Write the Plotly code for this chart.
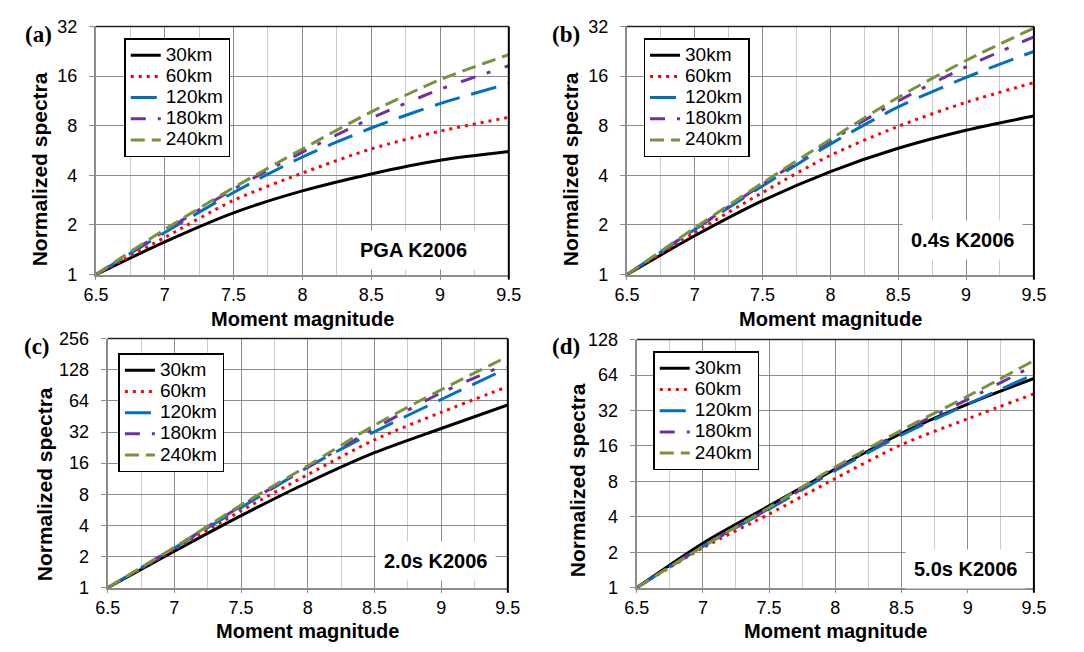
import math
import plotly.graph_objects as go

# Moment magnitude sample points
magnitude = [6.5, 7.0, 7.5, 8.0, 8.5, 9.0, 9.5]
distances = ["30km", "60km", "120km", "180km", "240km"]

# Normalized spectra per distance, one dict per panel
pga_k2006 = {
    "30km": [1, 1.58, 2.37, 3.22, 4.08, 4.94, 5.58],
    "60km": [1, 1.68, 2.82, 4.13, 5.79, 7.41, 9.0],
    "120km": [1, 1.80, 3.15, 5.17, 7.75, 10.9, 14.4],
    "180km": [1, 1.84, 3.30, 5.53, 8.88, 13.3, 18.5],
    "240km": [1, 1.88, 3.37, 5.78, 9.7, 15.2, 21.6],
}
sa04_k2006 = {
    "30km": [1, 1.72, 2.81, 4.22, 5.84, 7.51, 9.16],
    "60km": [1, 1.80, 3.15, 5.29, 7.93, 11.1, 14.6],
    "120km": [1, 1.88, 3.45, 6.19, 10.4, 15.7, 22.6],
    "180km": [1, 1.89, 3.53, 6.48, 11.3, 18.2, 27.7],
    "240km": [1, 1.92, 3.60, 6.62, 11.9, 19.9, 31.3],
}
sa20_k2006 = {
    "30km": [1, 2.25, 4.97, 10.4, 20.2, 34.6, 58.5],
    "60km": [1, 2.34, 5.54, 12.4, 26.9, 49.6, 88],
    "120km": [1, 2.42, 5.95, 14.6, 32.2, 66, 133],
    "180km": [1, 2.44, 6.16, 14.6, 34.6, 76.5, 146],
    "240km": [1, 2.46, 6.3, 15.1, 37.2, 82, 172],
}
sa50_k2006 = {
    "30km": [1, 2.39, 4.95, 10.2, 20.5, 36.2, 60],
    "60km": [1, 2.18, 4.22, 8.46, 16.4, 27.2, 44.3],
    "120km": [1, 2.24, 4.64, 9.9, 19.8, 36.2, 64.8],
    "180km": [1, 2.26, 4.7, 10.2, 21.1, 39.7, 77],
    "240km": [1, 2.24, 4.8, 10.6, 21.8, 42.3, 85],
}

yticks_a = [1, 2, 4, 8, 16, 32]
yticks_b = [1, 2, 4, 8, 16, 32]
yticks_c = [1, 2, 4, 8, 16, 32, 64, 128, 256]
yticks_d = [1, 2, 4, 8, 16, 32, 64, 128]

panel_labels = ["(a)", "(b)", "(c)", "(d)"]
panel_notes = ["PGA K2006", "0.4s K2006", "2.0s K2006", "5.0s K2006"]

W, H = 1084, 652
FONT = "Liberation Sans, Arial, sans-serif"
SERIF = "Liberation Serif, Times New Roman, serif"

styles = {
    "30km": dict(color="#000000", dash="solid", width=3),
    "60km": dict(color="#FF0000", dash="3px,5px", width=3),
    "120km": dict(color="#0070C0", dash="26px,12px", width=3),
    "180km": dict(color="#7030A0", dash="15px,12px,4px,15px", width=3),
    "240km": dict(color="#77933C", dash="14px,7px", width=3),
}


def px_x(v):
    return v / W


def px_y(v):
    return 1 - v / H


# plot-area boxes in pixels: (left, right, top, bottom)
boxes = [(85, 508, 17, 273), (629, 1046, 17, 273), (97, 507, 339, 596), (639, 1046, 340, 596)]
legend_pos = [(114, 29), (646, 29), (108, 354), (656, 352)]
note_pos = [(410, 248), (973, 237), (433, 568), (976, 577)]
label_pos = [(26, 25), (567, 25), (25, 347), (567, 347)]
ytitle_pos = [(28, 164), (572, 164), (32, 489), (578, 485)]
xtitle_y = [319, 319, 641, 641]

panels = [pga_k2006, sa04_k2006, sa20_k2006, sa50_k2006]
yticks = [yticks_a, yticks_b, yticks_c, yticks_d]

fig = go.Figure()
annotations = []
shapes = []

for i, (data, ticks) in enumerate(zip(panels, yticks)):
    n = "" if i == 0 else str(i + 1)
    leg = "legend" if i == 0 else f"legend{i + 1}"
    for d in distances:
        st = styles[d]
        fig.add_trace(go.Scatter(
            x=magnitude, y=data[d], mode="lines",
            name=f'<span style="font-size:19px">{d}</span>',
            line=dict(color=st["color"], dash=st["dash"], width=st["width"], shape="spline", smoothing=0.8),
            xaxis="x" + n, yaxis="y" + n, legend=leg, showlegend=True,
        ))
    l, r, t, b = boxes[i]
    fig.layout["xaxis" + n] = dict(
        domain=[px_x(l), px_x(r)], anchor="y" + n, range=[6.5, 9.5],
        dtick=0.5, tick0=6.5, showgrid=True, gridcolor="#8c8c8c", gridwidth=1,
        minor=dict(dtick=0.25, tick0=6.5, showgrid=True, gridcolor="#cccccc", gridwidth=1),
        ticks="outside", ticklen=3, tickcolor="#8c8c8c",
        showline=True, linecolor="#8c8c8c", linewidth=2, zeroline=False,
        tickfont=dict(family=FONT, size=18, color="#000000"), ticklabelstandoff=0,
    )
    fig.layout["yaxis" + n] = dict(
        domain=[px_y(b), px_y(t)], anchor="x" + n, type="log",
        range=[0, math.log10(ticks[-1])], tickvals=ticks, ticktext=[str(v) for v in ticks],
        showgrid=True, gridcolor="#8c8c8c", gridwidth=1,
        ticks="outside", ticklen=5, tickcolor="#8c8c8c",
        showline=True, linecolor="#8c8c8c", linewidth=2, zeroline=False,
        tickfont=dict(family=FONT, size=18, color="#000000"), ticklabelstandoff=8,
    )
    # dark frame on the top and right sides
    shapes.append(dict(type="line", xref=f"x{n} domain", yref=f"y{n} domain",
                       x0=1, x1=1, y0=-0.02, y1=1, line=dict(color="#000000", width=2)))
    shapes.append(dict(type="line", xref=f"x{n} domain", yref=f"y{n} domain",
                       x0=0, x1=1, y0=1, y1=1, line=dict(color="#202020", width=1.5)))
    lx, ly = legend_pos[i]
    fig.layout[leg] = dict(
        x=px_x(lx), y=px_y(ly), xanchor="left", yanchor="top",
        bgcolor="#ffffff", bordercolor="#000000", borderwidth=1.5,
        font=dict(family=FONT, size=14, color="#000000"),
        tracegroupgap=0,
    )
    nx, ny = note_pos[i]
    annotations.append(dict(
        x=px_x(nx), y=px_y(ny), xref="paper", yref="paper", showarrow=False,
        text=f"<b>{panel_notes[i]}</b>", font=dict(family=FONT, size=20, color="#000000"),
        bgcolor="#ffffff", borderpad=8, xanchor="center", yanchor="middle",
    ))
    px_, py_ = label_pos[i]
    annotations.append(dict(
        x=px_x(px_), y=px_y(py_), xref="paper", yref="paper", showarrow=False,
        text=f"<b>{panel_labels[i]}</b>", font=dict(family=SERIF, size=23, color="#000000"),
        xanchor="center", yanchor="middle",
    ))
    tx, ty = ytitle_pos[i]
    annotations.append(dict(
        x=px_x(tx), y=px_y(ty), xref="paper", yref="paper", showarrow=False,
        text="<b>Normalized spectra</b>", textangle=-90,
        font=dict(family=FONT, size=21, color="#000000"),
        xanchor="center", yanchor="middle",
    ))
    annotations.append(dict(
        x=px_x((l + r) / 2), y=px_y(xtitle_y[i]), xref="paper", yref="paper", showarrow=False,
        text="<b>Moment magnitude</b>", font=dict(family=FONT, size=20, color="#000000"),
        xanchor="center", yanchor="middle",
    ))

fig.update_layout(
    width=W, height=H, margin=dict(l=0, r=0, t=0, b=0),
    paper_bgcolor="#ffffff", plot_bgcolor="#ffffff",
    annotations=annotations, shapes=shapes,
)

fig.write_html("out.html")
